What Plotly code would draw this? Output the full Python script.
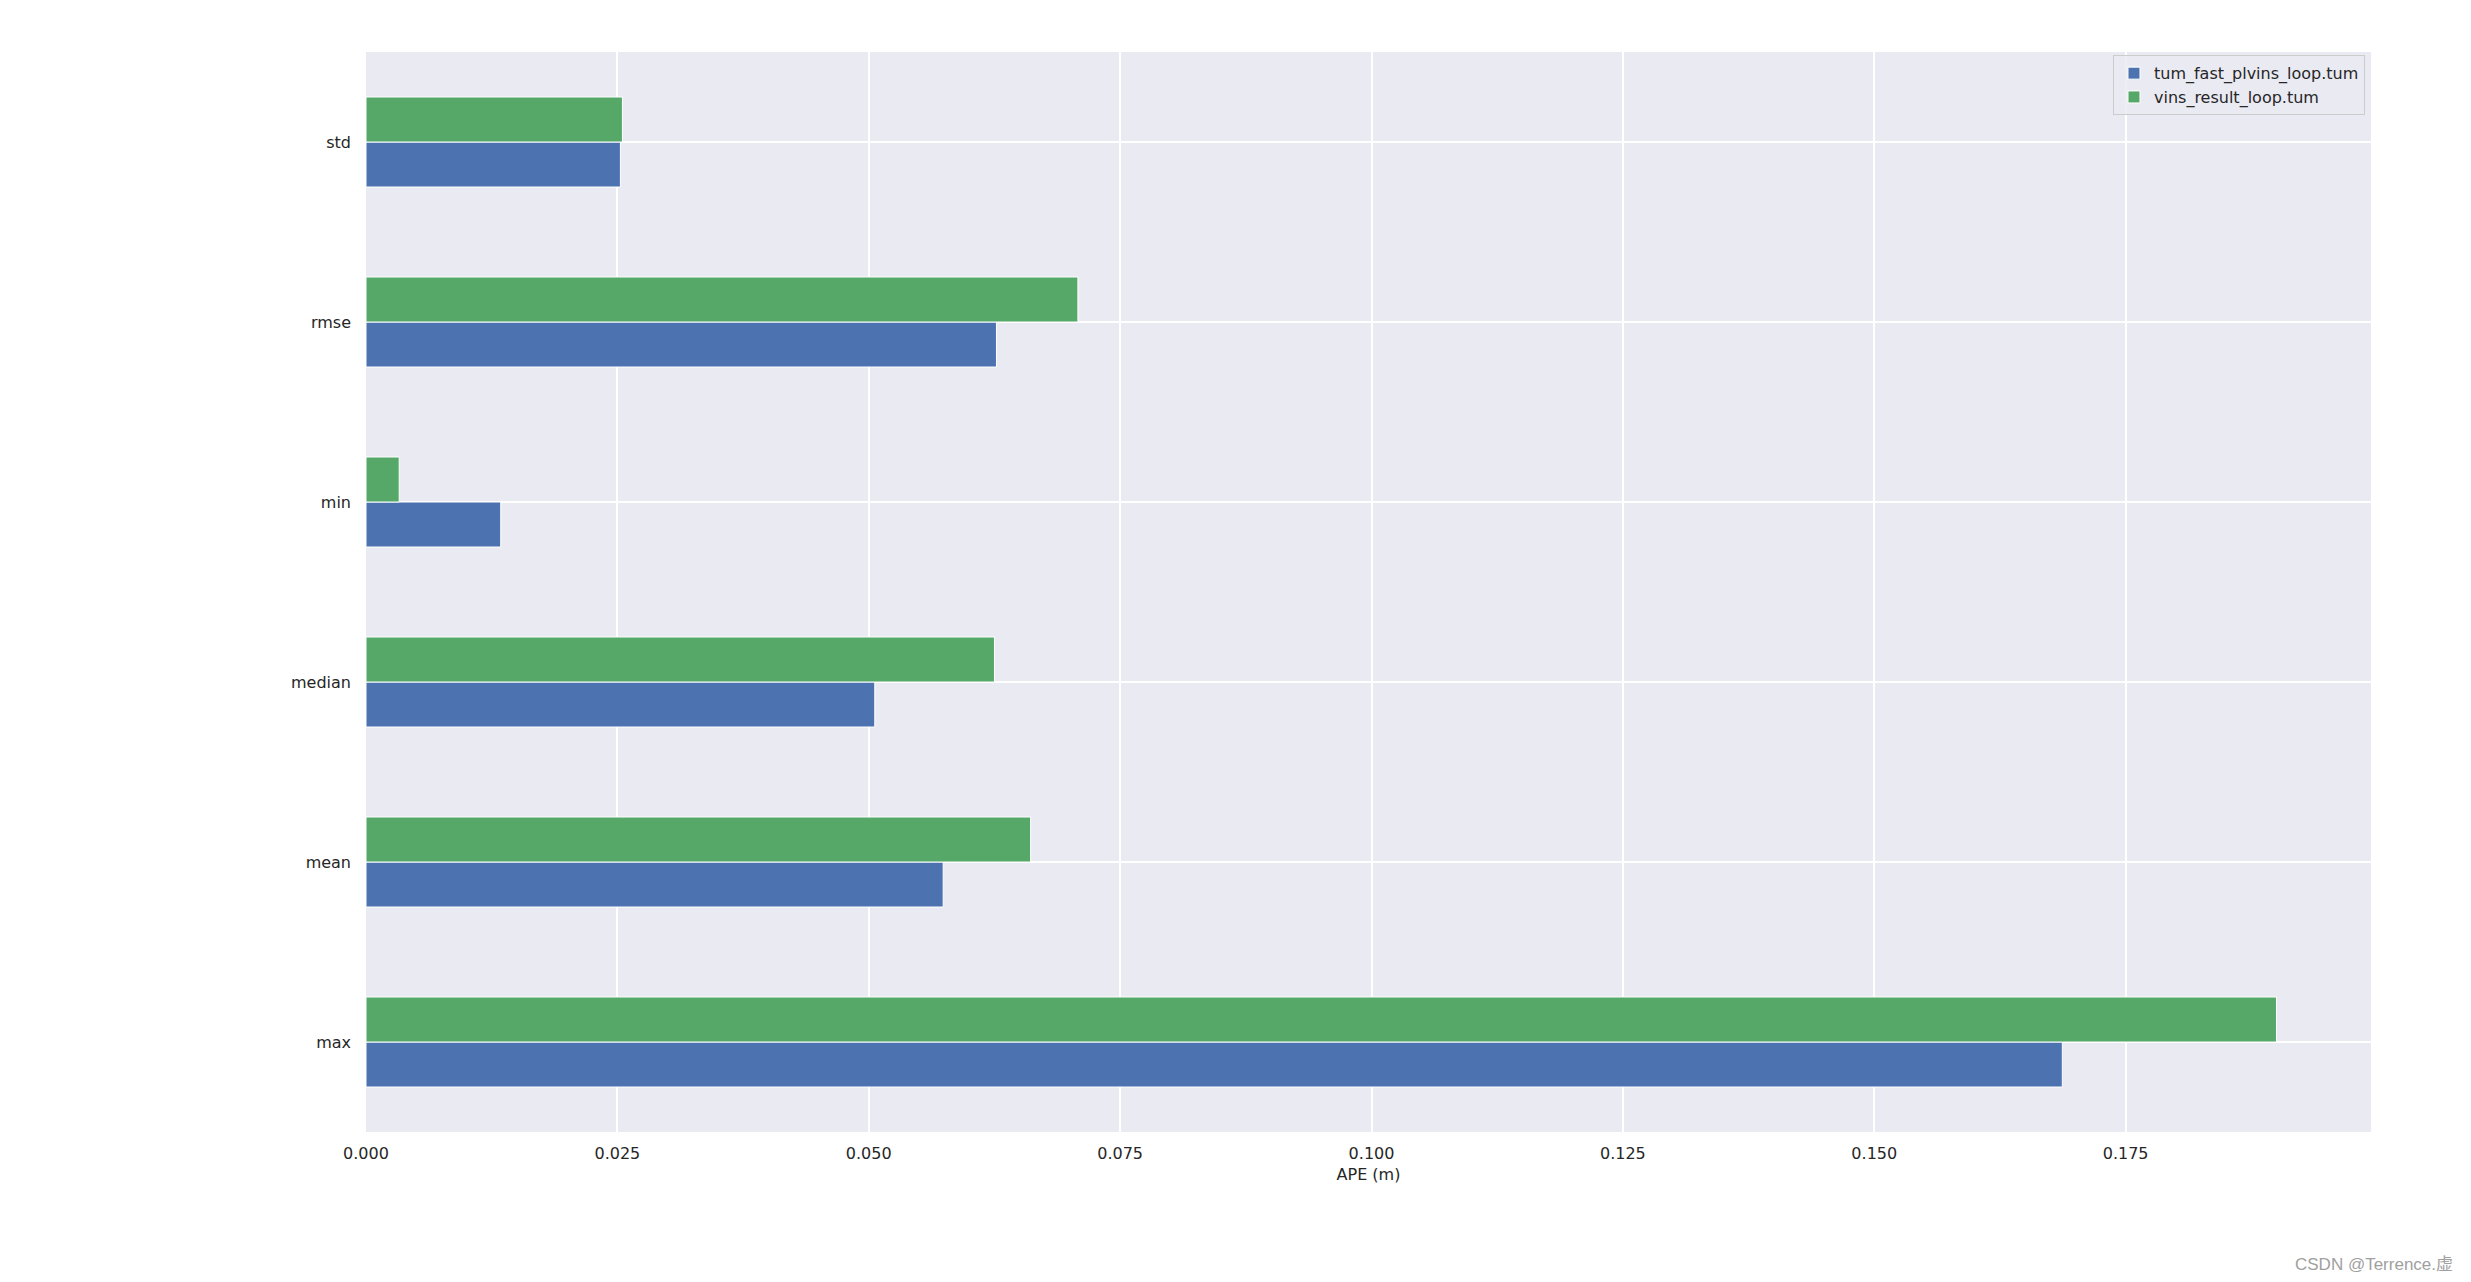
import plotly.graph_objects as go

# APE statistics per trajectory
STATS = ["max", "mean", "median", "min", "rmse", "std"]
fast_plvins = [0.1687, 0.0574, 0.0506, 0.0134, 0.0627, 0.0253]
vins_result = [0.1900, 0.0661, 0.0625, 0.0033, 0.0708, 0.0255]
x_ticks = [0.0, 0.025, 0.05, 0.075, 0.1, 0.125, 0.15, 0.175]

BLUE = "#4C72B0"
GREEN = "#55A868"
TEXT = "#262626"

fig = go.Figure()
fig.add_trace(go.Bar(
    y=STATS, x=fast_plvins, orientation="h",
    name="tum_fast_plvins_loop.tum",
    marker=dict(color=BLUE, line=dict(color="white", width=1))
))
fig.add_trace(go.Bar(
    y=STATS, x=vins_result, orientation="h",
    name="vins_result_loop.tum",
    marker=dict(color=GREEN, line=dict(color="white", width=1))
))

# page body has an 8px margin, so the figure is 8px smaller than the window
fig.update_layout(
    width=2463, height=1274,
    barmode="group", bargap=0.5, bargroupgap=0,
    paper_bgcolor="white", plot_bgcolor="#EAEAF2",
    font=dict(family="DejaVu Sans", size=16, color=TEXT),
    margin=dict(l=358, r=100, t=44, b=150),
    legend=dict(
        x=0.997, y=0.997, xanchor="right", yanchor="top",
        bgcolor="rgba(234,234,242,0.8)", bordercolor="#CCCCCC", borderwidth=1,
        font=dict(size=16, color=TEXT), traceorder="normal"
    ),
    xaxis=dict(
        range=[0, 0.1994], tickvals=x_ticks, tickformat=".3f",
        showgrid=True, gridcolor="white", gridwidth=1.6,
        zeroline=False, showline=False, ticks="", ticklabelstandoff=10,
        title=dict(text="APE (m)", standoff=6, font=dict(size=16)),
    ),
    yaxis=dict(
        type="category", categoryorder="array", categoryarray=STATS,
        range=[-0.5, 5.5],
        showgrid=True, gridcolor="white", gridwidth=1.6,
        zeroline=False, showline=False, ticks="", ticklabelstandoff=14,
    ),
    annotations=[dict(
        text="CSDN @Terrence.虚", xref="paper", yref="paper",
        x=1.0419, y=-0.1231, xanchor="right", yanchor="middle", showarrow=False,
        font=dict(family="Liberation Sans, Noto Sans CJK SC", size=17, color="#A0A0A0")
    )]
)

fig.write_html("out.html")
